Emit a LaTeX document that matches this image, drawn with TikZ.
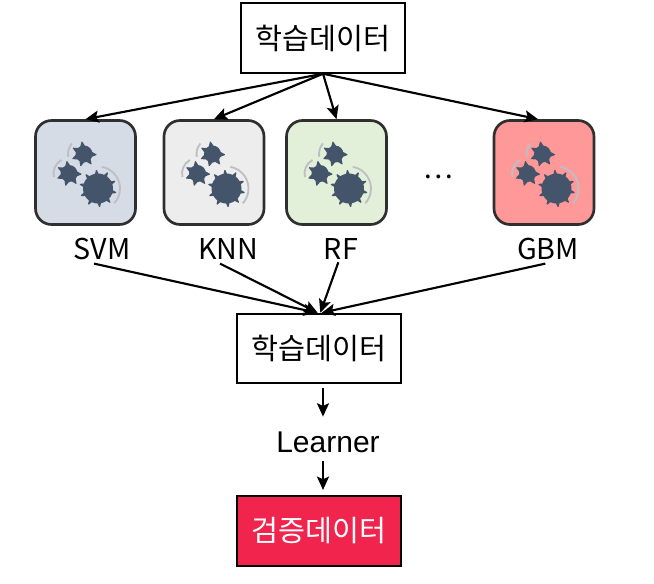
\documentclass[tikz,border=0pt]{standalone}
\usepackage{fontspec}
\setmainfont{Noto Sans CJK KR}
\newfontfamily\latinfont{Liberation Sans}
\usetikzlibrary{arrows.meta, positioning}

\definecolor{gearblue}{HTML}{44546A}
\definecolor{arcgray}{HTML}{BDBFC3}
\definecolor{tileline}{HTML}{2F2F2F}
\definecolor{valred}{HTML}{F1244E}

\begin{document}
\begin{tikzpicture}[
    x=0.75pt, y=-0.75pt,
    databox/.style={rectangle, draw=black, line width=1.6pt, minimum width=122.5pt, minimum height=52pt, inner sep=0pt, font=\fontsize{22}{26}\selectfont},
    tile/.style={rectangle, draw=tileline, line width=2pt, minimum width=75pt, minimum height=78pt, rounded corners=12pt},
    modelname/.style={inner sep=0pt, text height=15pt, text depth=1pt, font=\fontsize{21.5}{26}\selectfont},
    arrow/.style={line width=1.6pt, -{Stealth[length=10pt, width=9pt, inset=2pt]}},
    wheel/.pic={
        \fill[gearblue] (0,0) circle (15);
        \foreach \a in {0,36,...,324}
            \fill[gearblue, rotate=\a+5] (-2,-14) -- (2,-14) -- (0.5,-18.5) -- (-0.5,-18.5) -- cycle;
    },
    cog/.pic={
        \fill[gearblue] (0,0) circle (8.5);
        \foreach \a in {0,51.4,...,308}
            \fill[gearblue, rotate=\a+10] (-2.6,-7.5) -- (2.6,-7.5) -- (0.4,-12.5) -- (-0.4,-12.5) -- cycle;
    },
    gears/.pic={
        \pic at (12.5,16) {wheel};
        \pic at (-16.5,1) {cog};
        \pic at (-1.5,-18.5) {cog};
        \draw[arcgray, line width=1.4pt] (12.5,16) ++(-80:22) arc[start angle=-80, end angle=42, radius=22];
        \draw[arcgray, line width=1.4pt] (-16.5,1) ++(241:15.5) arc[start angle=241, end angle=167, radius=15.5];
        \draw[arcgray, line width=1.4pt] (-1.5,-18.5) ++(221:16) arc[start angle=221, end angle=170, radius=16];
    }
]

\useasboundingbox (0,0) rectangle (654,583);

% Data boxes
\node[databox] (train) at (323,38) {학습데이터};
\node[databox] (stack) at (319,348.5) {학습데이터};
\node[databox, fill=valred, text=white] (valid) at (319,531) {검증데이터};

% Model tiles
\node[tile, fill={rgb,255:red,214;green,220;blue,229}] (svm) at (85.5,172.5) {};
\node[tile, fill={rgb,255:red,237;green,237;blue,237}] (knn) at (214,172.5) {};
\node[tile, fill={rgb,255:red,226;green,240;blue,217}] (rf) at (336.5,172.5) {};
\node[tile, fill={rgb,255:red,255;green,153;blue,153}] (gbm) at (544,172.5) {};
\foreach \m in {svm,knn,rf,gbm}
    \pic at (\m) {gears};

\node[font=\fontsize{21}{24}\selectfont] (dots) at (438,177) {…};

% Model names
\node[modelname] (svmname) at (102,250) {SVM};
\node[modelname] (knnname) at (228,250) {KNN};
\node[modelname] (rfname) at (341,250) {RF};
\node[modelname] (gbmname) at (548,250) {GBM};

\node[font=\latinfont\fontsize{22.5}{24}\selectfont, inner sep=0pt] (learner) at (328,442) {Learner};

% Split arrows
\foreach \m in {svm,knn,rf}
    \draw[arrow] (train.south) -- (\m.north);
\draw[arrow] (train.south) -- ([xshift=-4.5pt]gbm.north);

% Merge arrows
\draw[arrow] ([xshift=-6pt,yshift=-2pt]svmname.south) -- ([xshift=-1.5pt]stack.north);
\draw[arrow] ([xshift=-6pt,yshift=-2pt]knnname.south) -- ([xshift=-1pt]stack.north);
\draw[arrow] ([xshift=-2pt,yshift=-1pt]rfname.south) -- ([xshift=1pt]stack.north);
\draw[arrow] ([xshift=-2pt,yshift=-2pt]gbmname.south) -- ([xshift=2pt]stack.north);

% Learner arrows
\draw[arrow] ([xshift=3pt,yshift=-3pt]stack.south) -- ([xshift=-3.75pt,yshift=11pt]learner.north);
\draw[arrow] ([xshift=-3.75pt,yshift=-6.5pt]learner.south) -- ([xshift=3pt,yshift=4pt]valid.north);

\end{tikzpicture}
\end{document}
